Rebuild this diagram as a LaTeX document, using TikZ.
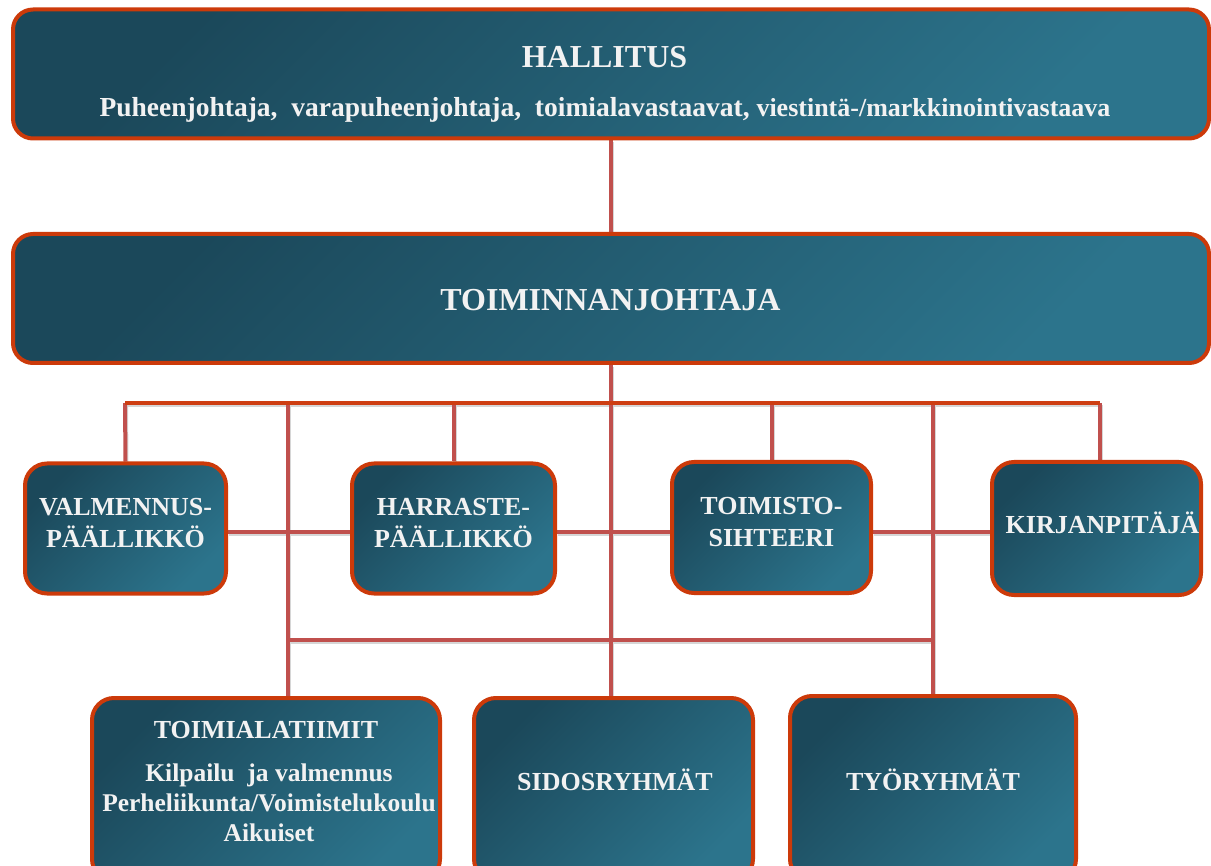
\documentclass[tikz,border=0pt]{standalone}
\usepackage{fontspec}
\setmainfont{Liberation Serif}
\usetikzlibrary{backgrounds}
\definecolor{tealdark}{RGB}{27,72,90}
\definecolor{teallight}{RGB}{44,116,140}
\definecolor{rim}{RGB}{204,58,10}
\definecolor{wirecol}{RGB}{192,80,77}
\definecolor{wireor}{RGB}{206,62,18}
\definecolor{txt}{RGB}{242,242,242}
\tikzset{
  box/.style={draw=rim, line width=4pt, rounded corners=22pt, top color=tealdark, bottom color=teallight, shading angle=45, inner sep=0pt},
  widebox/.style={box, rounded corners=20pt, minimum width=1196pt, minimum height=129pt},
  smallbox/.style={box, minimum height=130pt},
  lab/.style={text=txt, align=center, inner sep=0pt, font=\bfseries\fontsize{26}{32}\selectfont},
  biglab/.style={lab, font=\bfseries\fontsize{32}{36}\selectfont},
  wireshade/.style={draw=black!16, line width=4pt, transform canvas={xshift=1pt, yshift=-2pt}},
  wire/.style={draw=wirecol, line width=4pt},
  wiretop/.style={draw=wireor, line width=4pt}
}
\newcommand\orgwires[2]{%
\draw[#1] (hall.south) -- (toim.north);
\draw[#1] (toim.south) -- (toim.south |- sido.north);
\draw[#1] (v1) -- (v1 |- tiim.north);
\draw[#1] (v3) -- (tyor.north);
\draw[#1] (lowL) -- (lowR);
\draw[#1] (busL) -- (valm.north);
\draw[#1] (harr.north |- busL) -- (harr.north);
\draw[#1] (tsih.north |- busL) -- (tsih.north);
\draw[#1] (busR) -- (busR |- kirj.north);
\draw[#1] ([yshift=-3.5pt]valm.east) -- ([yshift=-3.5pt]harr.west);
\draw[#1] ([yshift=-3.5pt]harr.east) -- ([yshift=-4.5pt]tsih.west);
\draw[#1] ([yshift=-4.5pt]tsih.east) -- ([yshift=-3.5pt]kirj.west);
\draw[#2] (busL) -- (busR);
}
\begin{document}
\begin{tikzpicture}[x=1pt,y=-1pt]
\useasboundingbox (0,0) rectangle (1211,866);
% boxes
\node[widebox] (hall) at (611,74) {};
\node[widebox] (toim) at (611,298.5) {};
\node[smallbox, minimum width=201pt] (valm) at (125.5,528.5) {};
\node[smallbox, minimum width=203pt] (harr) at (453.5,528.5) {};
\node[smallbox, minimum width=199pt, minimum height=131pt] (tsih) at (771.5,527.5) {};
\node[smallbox, minimum width=209pt, minimum height=133pt] (kirj) at (1096.5,528.5) {};
\node[smallbox, minimum width=348pt, minimum height=183pt] (tiim) at (266,789.5) {};
\node[smallbox, minimum width=279pt, minimum height=183pt] (sido) at (613.5,789.5) {};
\node[smallbox, minimum width=286pt, minimum height=185pt] (tyor) at (933,788.5) {};
% texts
\node[biglab] (hallT) at (604.5,57) {HALLITUS};
\node[lab, font=\bfseries\fontsize{27.5}{30}\selectfont] (hallS) at (605,110) {Puheenjohtaja,\ \ varapuheenjohtaja,\ \ toimialavastaavat, {\fontsize{26}{30}\selectfont viestintä-/markkinointivastaava}};
\node[biglab] (toimT) at (610.5,300) {TOIMINNANJOHTAJA};
\node[lab] (valmT) at (125.5,523) {VALMENNUS-\\PÄÄLLIKKÖ};
\node[lab] (harrT) at (453.5,523) {HARRASTE-\\PÄÄLLIKKÖ};
\node[lab] (tsihT) at (771.5,522) {TOIMISTO-\\SIHTEERI};
\node[lab] (kirjT) at (1102.5,523) {KIRJANPITÄJÄ};
\node[lab] (tiimT) at (266,730) {TOIMIALATIIMIT};
\node[lab, font=\bfseries\fontsize{25.5}{30}\selectfont] (tiimS) at (269,803) {Kilpailu\ \ ja valmennus\\Perheliikunta/Voimistelukoulu\\Aikuiset};
\node[lab] (sidoT) at (615,780) {SIDOSRYHMÄT};
\node[lab] (tyorT) at (933,780) {TYÖRYHMÄT};
% connectors
\begin{pgfonlayer}{background}
\coordinate (busL) at (125,403);
\coordinate (busR) at (1100,403);
\coordinate (v1) at (288,403);
\coordinate (v3) at (933,403);
\coordinate (lowL) at (288,640);
\coordinate (lowR) at (933,640);
\orgwires{wireshade}{wireshade}
\orgwires{wire}{wiretop}
\end{pgfonlayer}
\end{tikzpicture}
\end{document}
